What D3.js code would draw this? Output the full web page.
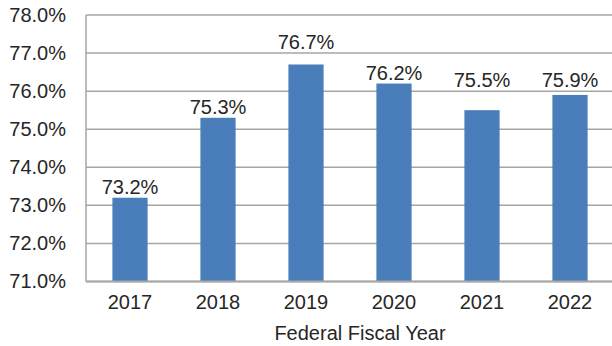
<!DOCTYPE html>
<html>
<head>
<meta charset="utf-8">
<script src="https://cdn.jsdelivr.net/npm/d3@7"></script>
<style>
  body { margin: 0; background: #fff; }
  text { font-family: "Liberation Sans", Arial, sans-serif; fill: #262626; }
</style>
</head>
<body>
<div id="chart"></div>
<script>
// data
var years = ["2017", "2018", "2019", "2020", "2021", "2022"];
var rates = [73.2, 75.3, 76.7, 76.2, 75.5, 75.9];
var yTicks = [71, 72, 73, 74, 75, 76, 77, 78];

var svgWidth = 612;
var svgHeight = 346;

var margin = { top: 15, right: 0, bottom: 64.5, left: 86 };

var svg = d3.select("#chart")
    .append("svg")
    .attr("width", svgWidth)
    .attr("height", svgHeight);

var xScale = d3.scaleBand()
    .domain(years)
    .range([margin.left, margin.left + 528])
    .paddingInner(0.6)
    .paddingOuter(0.3);

var yScale = d3.scaleLinear()
    .domain([71, 78])
    .range([svgHeight - margin.bottom, margin.top]);

// gridlines
svg.append("g")
    .selectAll("line")
    .data(yTicks)
    .enter()
    .append("line")
    .attr("x1", margin.left)
    .attr("x2", svgWidth)
    .attr("y1", d => yScale(d))
    .attr("y2", d => yScale(d))
    .attr("stroke", "#a6a6a6")
    .attr("stroke-width", 1.5);

// y axis labels
var yAxis = d3.axisLeft(yScale)
    .tickValues(yTicks)
    .tickSize(0)
    .tickPadding(20)
    .tickFormat(d => d.toFixed(1) + "%");

svg.append("g")
    .attr("transform", "translate(" + margin.left + ",0)")
    .call(yAxis)
    .call(g => g.select(".domain").remove())
    .selectAll("text")
    .attr("font-size", "20px")
    .attr("fill", "#262626")
    .attr("font-family", "Liberation Sans, Arial, sans-serif");

// bars
svg.selectAll("rect.bar")
    .data(years)
    .enter()
    .append("rect")
    .attr("class", "bar")
    .attr("x", d => xScale(d))
    .attr("width", xScale.bandwidth())
    .attr("y", (d, i) => yScale(rates[i]))
    .attr("height", (d, i) => yScale(71) - yScale(rates[i]))
    .attr("fill", "#4a7ebb");

// left axis line and bottom line
svg.append("line")
    .attr("x1", margin.left).attr("x2", margin.left)
    .attr("y1", yScale(78)).attr("y2", yScale(71))
    .attr("stroke", "#a6a6a6")
    .attr("stroke-width", 1.5);
svg.append("line")
    .attr("x1", margin.left).attr("x2", svgWidth)
    .attr("y1", yScale(71)).attr("y2", yScale(71))
    .attr("stroke", "#a6a6a6")
    .attr("stroke-width", 2);

// value labels, nudged above a gridline when they would sit on it
function labelY(v) {
    var base = yScale(v) - 4;
    yTicks.forEach(function (t) {
        var gy = yScale(t);
        if (gy > base - 16 && gy < base + 2) base = gy - 4;
    });
    return base;
}

svg.selectAll("text.value")
    .data(years)
    .enter()
    .append("text")
    .attr("class", "value")
    .attr("x", d => xScale(d) + xScale.bandwidth() / 2)
    .attr("y", (d, i) => labelY(rates[i]))
    .attr("text-anchor", "middle")
    .attr("font-size", "20px")
    .text((d, i) => rates[i].toFixed(1) + "%");

// x axis labels
var xAxis = d3.axisBottom(xScale)
    .tickSize(0)
    .tickPadding(13);

svg.append("g")
    .attr("transform", "translate(0," + yScale(71) + ")")
    .call(xAxis)
    .call(g => g.select(".domain").remove())
    .selectAll("text")
    .attr("font-size", "20px")
    .attr("fill", "#262626")
    .attr("font-family", "Liberation Sans, Arial, sans-serif");

svg.append("text")
    .attr("x", 360)
    .attr("y", 339.5)
    .attr("text-anchor", "middle")
    .attr("font-size", "20px")
    .text("Federal Fiscal Year");
</script>
</body>
</html>
